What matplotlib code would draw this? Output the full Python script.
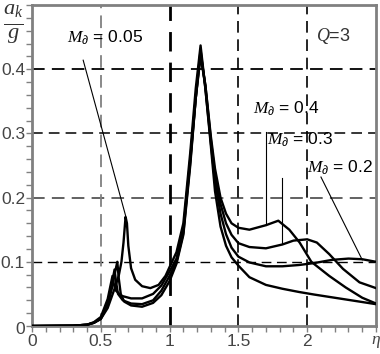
import numpy as np
import matplotlib
matplotlib.use("Agg")
import matplotlib.pyplot as plt
from matplotlib.ticker import MultipleLocator

plt.rcParams['font.family'] = ['Liberation Sans', 'DejaVu Sans']
plt.rcParams['mathtext.fontset'] = 'custom'
plt.rcParams['mathtext.it'] = 'Liberation Serif:italic'
plt.rcParams['mathtext.rm'] = 'Liberation Sans'

# curve data (eta, a_k/g)
eta_005 = [0, 0.3, 0.4, 0.45, 0.5, 0.55, 0.6, 0.63, 0.65, 0.665, 0.68, 0.69, 0.70, 0.72,
           0.75, 0.8, 0.86, 0.92, 0.97, 1.0, 1.05, 1.1, 1.15, 1.19, 1.225, 1.26, 1.30,
           1.33, 1.37, 1.41, 1.45, 1.5, 1.58, 1.7, 1.82, 1.94, 2.05, 2.2, 2.35, 2.5]
a_005 = [0, 0.0005, 0.002, 0.005, 0.011, 0.028, 0.058, 0.078, 0.10, 0.13, 0.17, 0.16,
         0.125, 0.09, 0.072, 0.062, 0.059, 0.064, 0.078, 0.092, 0.115, 0.16, 0.27, 0.37,
         0.437, 0.37, 0.28, 0.21, 0.155, 0.125, 0.107, 0.094, 0.076, 0.064, 0.058, 0.053,
         0.049, 0.044, 0.039, 0.034]

eta_02 = [0, 0.3, 0.4, 0.45, 0.5, 0.55, 0.58, 0.60, 0.62, 0.63, 0.645, 0.67, 0.72, 0.8,
          0.88, 0.94, 1.0, 1.05, 1.1, 1.15, 1.19, 1.225, 1.26, 1.30, 1.33, 1.37, 1.41,
          1.45, 1.5, 1.58, 1.7, 1.82, 1.94, 2.05, 2.18, 2.3, 2.4, 2.5]
a_02 = [0, 0.0005, 0.002, 0.005, 0.011, 0.032, 0.058, 0.08, 0.10, 0.075, 0.05, 0.038,
        0.032, 0.030, 0.036, 0.048, 0.07, 0.097, 0.142, 0.25, 0.355, 0.43, 0.37, 0.285,
        0.225, 0.175, 0.143, 0.122, 0.108, 0.099, 0.093, 0.093, 0.095, 0.098, 0.103,
        0.105, 0.104, 0.100]

eta_03 = [0, 0.3, 0.4, 0.45, 0.5, 0.55, 0.58, 0.60, 0.61, 0.625, 0.66, 0.72, 0.8, 0.88,
          0.94, 1.0, 1.05, 1.1, 1.15, 1.19, 1.225, 1.26, 1.30, 1.33, 1.37, 1.41, 1.45,
          1.5, 1.58, 1.7, 1.82, 1.9, 2.0, 2.07, 2.16, 2.26, 2.38, 2.5]
a_03 = [0, 0.0005, 0.002, 0.005, 0.012, 0.036, 0.065, 0.088, 0.07, 0.05, 0.04, 0.035,
        0.034, 0.04, 0.055, 0.078, 0.10, 0.145, 0.255, 0.355, 0.425, 0.375, 0.29, 0.235,
        0.19, 0.16, 0.142, 0.129, 0.123, 0.121, 0.127, 0.133, 0.135, 0.13, 0.112, 0.089,
        0.068, 0.059]

eta_04 = [0, 0.3, 0.4, 0.45, 0.5, 0.55, 0.585, 0.595, 0.61, 0.65, 0.72, 0.8, 0.88, 0.94,
          1.0, 1.05, 1.1, 1.15, 1.19, 1.225, 1.26, 1.30, 1.33, 1.37, 1.41, 1.45, 1.5,
          1.58, 1.7, 1.79, 1.87, 1.945, 2.03, 2.16, 2.28, 2.4, 2.5]
a_04 = [0, 0.0005, 0.002, 0.006, 0.014, 0.042, 0.078, 0.065, 0.055, 0.047, 0.043, 0.043,
        0.05, 0.063, 0.085, 0.105, 0.15, 0.26, 0.355, 0.42, 0.375, 0.295, 0.245, 0.20,
        0.175, 0.16, 0.153, 0.150, 0.157, 0.164, 0.15, 0.13, 0.10, 0.078, 0.06, 0.044,
        0.035]

fig = plt.figure(figsize=(3.8, 3.54), dpi=100)
ax = fig.add_axes([0.0842, 0.0791, 0.9053, 0.9068])

gray = '#808080'
# grid
for y, c, w in [(0.1, 'k', 1.0), (0.2, '#555555', 1.3), (0.3, 'k', 1.1), (0.4, 'k', 1.3)]:
    ax.axhline(y, color=c, lw=w, dashes=(7, 4), zorder=1)
for x, c, w in [(0.5, gray, 1.3), (1.0, 'k', 2.0), (1.5, 'k', 1.2), (2.0, 'k', 1.2)]:
    ax.axvline(x, color=c, lw=w, dashes=(7, 4), zorder=1)

for e, a in [(eta_005, a_005), (eta_02, a_02), (eta_03, a_03), (eta_04, a_04)]:
    ax.plot(e, a, color='k', lw=1.7, zorder=3)

# labels with leader lines
lab = r'$M_\partial$'
ax.text(0.53, 0.45, lab + ' = 0.05', fontsize=12.5, ha='center', va='center')
ax.plot([0.372, 0.68], [0.414, 0.172], color='k', lw=0.8)
ax.text(1.845, 0.339, lab + ' = 0.4', fontsize=12.5, ha='center', va='center')
ax.plot([1.70, 1.70], [0.302, 0.157], color='k', lw=0.8)
ax.text(1.95, 0.291, lab + ' = 0.3', fontsize=12.5, ha='center', va='center')
ax.plot([1.815, 1.815], [0.23, 0.127], color='k', lw=0.8)
ax.text(2.24, 0.247, lab + ' = 0.2', fontsize=12.5, ha='center', va='center')
ax.plot([2.10, 2.40], [0.232, 0.103], color='k', lw=0.8)
ax.text(2.19, 0.452, r'$Q$=$3$', fontsize=13, ha='center', va='center', color='#333333')

ax.set_xlim(0, 2.5)
ax.set_ylim(0, 0.5)
ax.set_xticks([0, 0.5, 1, 1.5, 2, 2.5])
ax.set_xticklabels(['0', '0.5', '1', '1.5', '2', r'$\eta$'])
ax.set_yticks([0.1, 0.2, 0.3, 0.4])
ax.set_yticklabels(['0.1', '0.2', '0.3', '0.4'])
ax.xaxis.set_minor_locator(MultipleLocator(0.1))
ax.yaxis.set_minor_locator(MultipleLocator(0.02))
ax.tick_params(which='both', direction='out', color=gray, labelcolor='#444444',
               labelsize=12.5, length=4, width=1)
ax.tick_params(axis='y', pad=1)
ax.tick_params(axis='x', pad=2)
for s in ax.spines.values():
    s.set_color(gray)
    s.set_linewidth(2)

fig.text(20 / 380, 1 - 330 / 354, '0', fontsize=12.5, color='#444444', ha='center', va='center')
fig.text(13 / 380, 1 - 24 / 354, r'$\frac{a_k}{g}$', fontsize=23, color='#333333',
         ha='center', va='center')

fig.savefig('out.png', dpi=100)
